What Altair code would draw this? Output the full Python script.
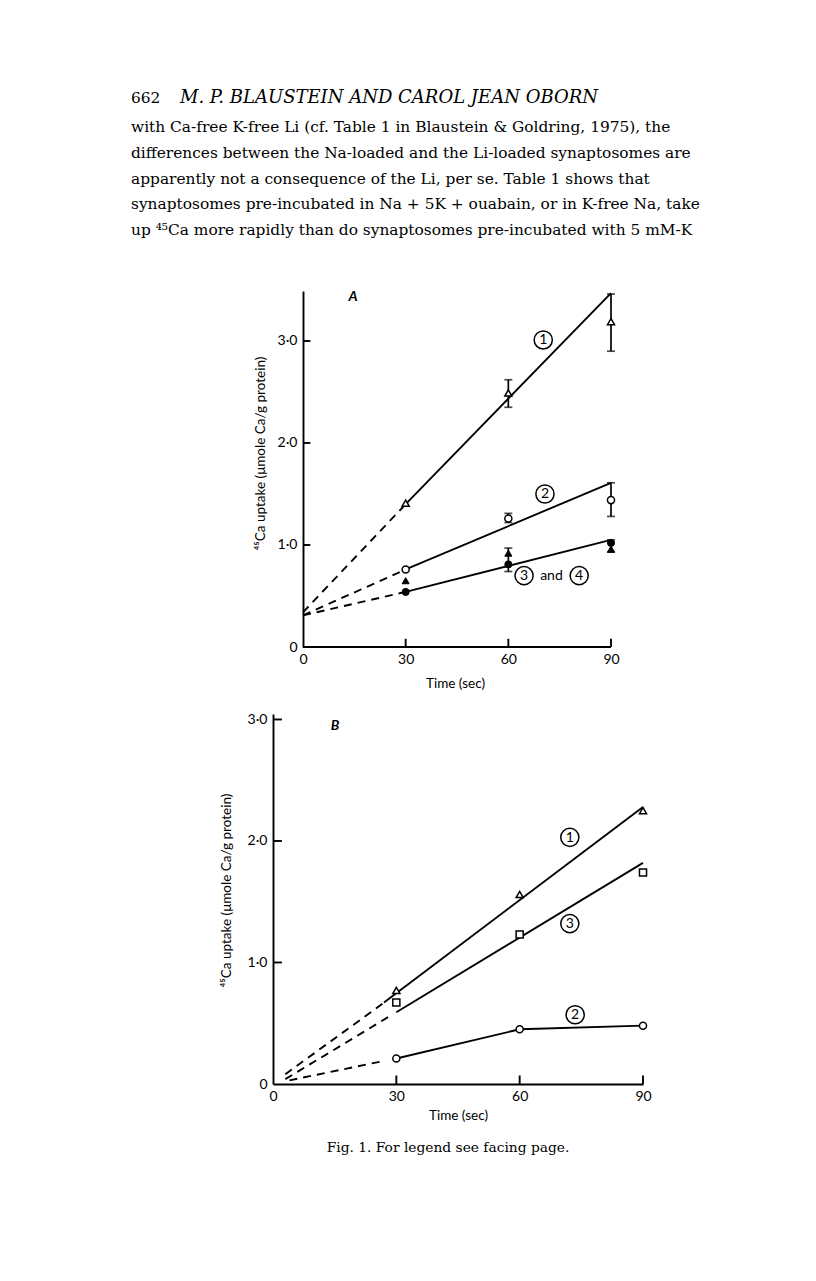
import altair as alt
import pandas as pd

# ---------------- Panel A values ----------------
A_T = [30, 60, 90]
A_TRI_OPEN = [1.41, 2.49, 3.19]     # curve 1
A_CIRC_OPEN = [0.76, 1.26, 1.44]    # curve 2
A_CIRC_FILL = [0.54, 0.81, 1.02]    # curve 3
A_TRI_FILL = [0.65, 0.92, 0.96]     # curve 4

A_ERR_T = [60, 90, 60, 90, 60, 90]
A_ERR_LO = [2.35, 2.90, 1.22, 1.28, 0.74, 0.93]
A_ERR_HI = [2.62, 3.46, 1.31, 1.61, 0.97, 1.05]

A_SOLID_T = [30, 90]
A_SOLID_1 = [1.40, 3.47]
A_SOLID_2 = [0.76, 1.61]
A_SOLID_34 = [0.54, 1.05]
A_DASH_T = [0, 30]
A_DASH_1 = [0.34, 1.40]
A_DASH_2 = [0.31, 0.76]
A_DASH_34 = [0.31, 0.54]

A_LABEL_T = [70.2, 70.7, 64.6, 80.7]
A_LABEL_V = [3.01, 1.50, 0.70, 0.70]
A_LABEL_TXT = ["1", "2", "3", "4"]

# ---------------- Panel B values ----------------
B_T = [30, 60, 90]
B_TRI_OPEN = [0.77, 1.56, 2.25]     # curve 1
B_CIRC_OPEN = [0.21, 0.45, 0.48]    # curve 2
B_SQ_OPEN = [0.67, 1.23, 1.74]      # curve 3

B_SOLID_1_T = [27, 90]
B_SOLID_1 = [0.67, 2.28]
B_SOLID_3_T = [30, 90]
B_SOLID_3 = [0.59, 1.82]
B_SOLID_2_T = [30, 60, 90]
B_SOLID_2 = [0.21, 0.45, 0.48]
B_DASH_1_T = [3, 27]
B_DASH_1 = [0.08, 0.67]
B_DASH_3_T = [3, 28]
B_DASH_3 = [0.04, 0.55]
B_DASH_2_T = [4, 27]
B_DASH_2 = [0.03, 0.19]

B_LABEL_T = [72.2, 72.2, 73.5]
B_LABEL_V = [2.03, 1.32, 0.57]
B_LABEL_TXT = ["1", "3", "2"]

X_TICKS = [0, 30, 60, 90]
Y_TICKS = [0, 1, 2, 3]
INNER_Y_TICKS = [1, 2, 3]
INNER_X_TICKS = [30, 60, 90]

HEADER_NUM = "662"
HEADER = "M. P. BLAUSTEIN AND CAROL JEAN OBORN"
BODY = [
    "with Ca-free K-free Li (cf. Table 1 in Blaustein & Goldring, 1975), the",
    "differences between the Na-loaded and the Li-loaded synaptosomes are",
    "apparently not a consequence of the Li, per se. Table 1 shows that",
    "synaptosomes pre-incubated in Na + 5K + ouabain, or in K-free Na, take",
    "up \u2074\u2075Ca more rapidly than do synaptosomes pre-incubated with 5 mM-K",
]
CAPTION = "Fig. 1. For legend see facing page."
Y_TITLE = "\u2074\u2075Ca uptake (\u03bcmole Ca/g protein)"
X_TITLE = "Time (sec)"

LABEL_EXPR = "datum.value == 0 ? '0' : replace(format(datum.value, '.1f'), '.', '\u00b7')"
SANS = "Lato"
SERIF = "DejaVu Serif"
LW = 1.9


def seg(ts, vs, name):
    return pd.DataFrame({"t": ts, "v": vs, "s": name})


def panel(x_dom, y_dom, w, h, y_offset, x_domain_line, y_title_y, x_title_x, x_title_y,
          y_title_pad, solid, dashed, markers, errs, labels, panel_letter, extra):
    x_enc = alt.X("t:Q", scale=alt.Scale(domain=x_dom, nice=False, zero=False),
                  axis=alt.Axis(values=X_TICKS, ticks=False, domain=x_domain_line,
                                domainColor="black", domainWidth=LW, labelPadding=5,
                                labelFlush=False, title=X_TITLE, titleX=x_title_x,
                                titleY=x_title_y, titleAlign="center",
                                titleBaseline="middle", grid=False))
    y_enc = alt.Y("v:Q", scale=alt.Scale(domain=y_dom, nice=False, zero=False),
                  axis=alt.Axis(values=Y_TICKS, ticks=False, domain=True, offset=y_offset,
                                domainColor="black", domainWidth=LW, labelPadding=6,
                                labelExpr=LABEL_EXPR, labelFlush=False, title=Y_TITLE,
                                titleY=y_title_y, titlePadding=y_title_pad, grid=False))
    layers = []
    # inward ticks and axis line
    tick_rows = []
    for v in INNER_Y_TICKS:
        tick_rows.append({"t": 0, "t2": x_dom[1] * 0.024, "v": v, "v2": v})
    for t in INNER_X_TICKS:
        tick_rows.append({"t": t, "t2": t, "v": 0, "v2": y_dom[1] * 0.023})
    if not x_domain_line:
        tick_rows.append({"t": 0, "t2": 90, "v": 0, "v2": 0})
    layers.append(alt.Chart(pd.DataFrame(tick_rows)).mark_rule(color="black", strokeWidth=LW)
                  .encode(x=x_enc, x2="t2:Q", y=y_enc, y2="v2:Q"))
    layers.append(alt.Chart(pd.concat(solid)).mark_line(color="black", strokeWidth=LW)
                  .encode(x=x_enc, y=y_enc, detail="s:N"))
    layers.append(alt.Chart(pd.concat(dashed)).mark_line(color="black", strokeWidth=LW,
                                                         strokeDash=[8, 6])
                  .encode(x=x_enc, y=y_enc, detail="s:N"))
    if errs is not None:
        layers.append(alt.Chart(errs).mark_rule(color="black", strokeWidth=1.7)
                      .encode(x=x_enc, y=y_enc, y2="v2:Q"))
        caps = pd.concat([errs[["t", "v"]], errs[["t", "v2"]].rename(columns={"v2": "v"})])
        layers.append(alt.Chart(caps).mark_tick(orient="horizontal", color="black", size=8,
                                                thickness=1.7)
                      .encode(x=x_enc, y=y_enc))
    for df, shape, filled in markers:
        if filled:
            m = alt.Chart(df).mark_point(shape=shape, size=50, filled=True, fill="black",
                                         stroke="black", strokeWidth=1, opacity=1)
        else:
            m = alt.Chart(df).mark_point(shape=shape, size=50, filled=True, fill="white",
                                         stroke="black", strokeWidth=1.5, opacity=1)
        layers.append(m.encode(x=x_enc, y=y_enc))
    layers.append(alt.Chart(labels).mark_point(shape="circle", size=330, filled=False,
                                               stroke="black", strokeWidth=1.5, opacity=1)
                  .encode(x=x_enc, y=y_enc))
    layers.append(alt.Chart(labels).mark_text(font=SANS, fontSize=14, color="black",
                                              baseline="middle", align="center", dy=0.5)
                  .encode(x=x_enc, y=y_enc, text="d:N"))
    layers.append(alt.Chart(panel_letter).mark_text(font=SANS, fontSize=14, fontStyle="italic",
                                                    fontWeight="bold", color="black",
                                                    baseline="middle", align="center")
                  .encode(x=x_enc, y=y_enc, text="d:N"))
    layers.extend(extra(x_enc, y_enc))
    return alt.layer(*layers).properties(width=w, height=h)


# ---------- Panel A ----------
a_solid = [seg(A_SOLID_T, A_SOLID_1, "1"), seg(A_SOLID_T, A_SOLID_2, "2"),
           seg(A_SOLID_T, A_SOLID_34, "34")]
a_dash = [seg(A_DASH_T, A_DASH_1, "1"), seg(A_DASH_T, A_DASH_2, "2"),
          seg(A_DASH_T, A_DASH_34, "34")]
a_markers = [(seg(A_T, A_TRI_OPEN, "1"), "triangle-up", False),
             (seg(A_T, A_CIRC_OPEN, "2"), "circle", False),
             (seg(A_T, A_CIRC_FILL, "3"), "circle", True),
             (seg(A_T, A_TRI_FILL, "4"), "triangle-up", True)]
a_errs = pd.DataFrame({"t": A_ERR_T, "v": A_ERR_LO, "v2": A_ERR_HI})
a_labels = pd.DataFrame({"t": A_LABEL_T, "v": A_LABEL_V, "d": A_LABEL_TXT})
a_letter = pd.DataFrame({"t": [14.6], "v": [3.43], "d": ["A"]})


def a_extra(x_enc, y_enc):
    out = []
    out.append(alt.Chart(pd.DataFrame({"t": [72.6], "v": [0.70], "d": ["and"]}))
               .mark_text(font=SANS, fontSize=14, color="black", baseline="middle",
                          align="center")
               .encode(x=x_enc, y=y_enc, text="d:N"))
    out.append(alt.Chart(pd.DataFrame({"d": [HEADER_NUM]}))
               .mark_text(font=SERIF, fontSize=15.4, color="black", align="left",
                          baseline="alphabetic")
               .encode(x=alt.value(-142), y=alt.value(-188), text="d:N"))
    out.append(alt.Chart(pd.DataFrame({"d": [HEADER]}))
               .mark_text(font=SERIF, fontSize=18, fontStyle="italic", color="black",
                          align="left", baseline="alphabetic")
               .encode(x=alt.value(-93), y=alt.value(-188), text="d:N"))
    out.append(alt.Chart(pd.DataFrame({"d": ["\n".join(BODY)]}))
               .mark_text(font=SERIF, fontSize=15.4, color="black", align="left",
                          baseline="alphabetic", lineBreak="\n", lineHeight=25.75)
               .encode(x=alt.value(-142), y=alt.value(-159), text="d:N"))
    return out


chart_a = panel([-8.766, 90], [0, 3.49], 338, 356, -30, False, 162, 182, 36, 10,
                a_solid, a_dash, a_markers, a_errs, a_labels, a_letter, a_extra)

# ---------- Panel B ----------
b_solid = [seg(B_SOLID_1_T, B_SOLID_1, "1"), seg(B_SOLID_3_T, B_SOLID_3, "3"),
           seg(B_SOLID_2_T, B_SOLID_2, "2")]
b_dash = [seg(B_DASH_1_T, B_DASH_1, "1"), seg(B_DASH_3_T, B_DASH_3, "3"),
          seg(B_DASH_2_T, B_DASH_2, "2")]
b_markers = [(seg(B_T, B_TRI_OPEN, "1"), "triangle-up", False),
             (seg(B_T, B_CIRC_OPEN, "2"), "circle", False),
             (seg(B_T, B_SQ_OPEN, "3"), "square", False)]
b_labels = pd.DataFrame({"t": B_LABEL_T, "v": B_LABEL_V, "d": B_LABEL_TXT})
b_letter = pd.DataFrame({"t": [15.1], "v": [2.95], "d": ["B"]})


def b_extra(x_enc, y_enc):
    return [alt.Chart(pd.DataFrame({"d": [CAPTION]}))
            .mark_text(font=SERIF, fontSize=13.8, color="black", align="center",
                       baseline="middle")
            .encode(x=alt.value(175), y=alt.value(434), text="d:N")]


chart_b = panel([0, 90], [0, 3.045], 370, 370, 0, True, 176, 185, 31, 14,
                b_solid, b_dash, b_markers, None, b_labels, b_letter, b_extra)

chart = alt.vconcat(chart_a, chart_b, spacing=67, bounds="flush").properties(
    padding={"left": 123, "top": 81, "right": 5, "bottom": 5}
).configure_view(stroke=None).configure_axis(
    labelFont=SANS, titleFont=SANS, labelFontSize=14, titleFontSize=13.5,
    labelColor="black", titleColor="black", titleFontWeight="normal"
)

chart.save("out.html", embed_options={"renderer": "svg", "actions": False})
